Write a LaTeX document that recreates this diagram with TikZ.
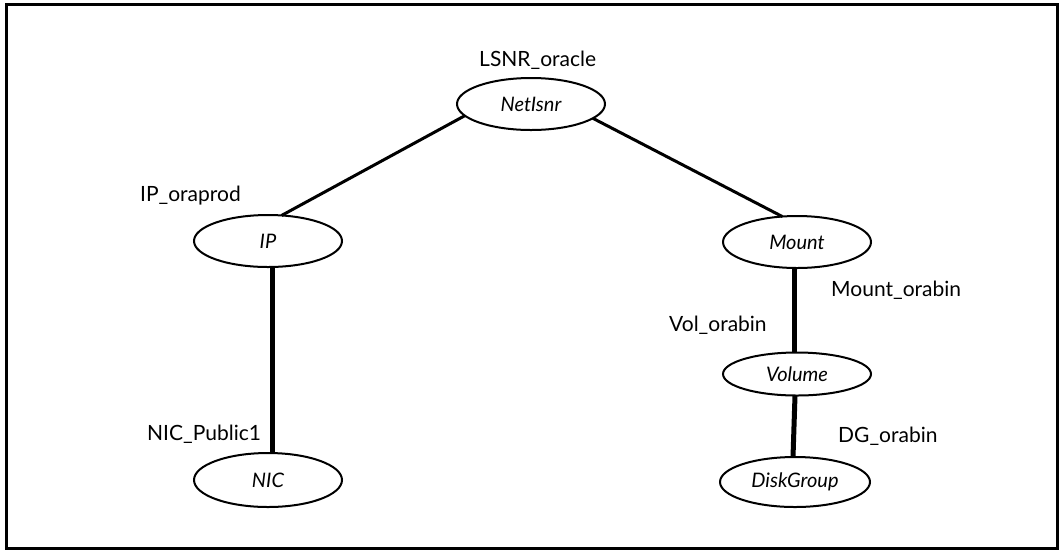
\documentclass[tikz,border=0pt]{standalone}
\usepackage{fontspec}
\setmainfont{Lato}
\usetikzlibrary{shapes.geometric}
\begin{document}
\begin{tikzpicture}[x=1pt,y=-1pt,
  res/.style={ellipse,draw,line width=2pt,minimum width=148pt,minimum height=52pt,inner sep=0pt,outer sep=0pt,font=\fontsize{20}{22}\selectfont\itshape},
  lbl/.style={anchor=base west,inner sep=0pt,font=\fontsize{21}{24}\selectfont},
  diag/.style={line width=3pt},
  vert/.style={line width=5pt}]
\useasboundingbox (0,0) rectangle (1059,550);
\draw[line width=3pt] (6.5,4.5) rectangle (1057.5,548.5);
\node[res] (net) at (531,104) {NetIsnr};
\node[res] (ip) at (268,241) {IP};
\node[res] (mount) at (797,242) {Mount};
\node[res,minimum height=43pt] (vol) at (797,374) {Volume};
\node[res,minimum height=50pt,minimum width=150pt] (dg) at (795,482) {DiskGroup};
\node[res,minimum height=54pt] (nic) at (268,480) {NIC};
\node[lbl] (l1) at (479,66) {LSNR\_oracle};
\node[lbl] (l2) at (140,201) {IP\_oraprod};
\node[lbl] (l3) at (831,296) {Mount\_orabin};
\node[lbl] (l4) at (669,331) {Vol\_orabin};
\node[lbl] (l5) at (838,442) {DG\_orabin};
\node[lbl] (l6) at (147,440) {NIC\_Public1};
\draw[diag] (net.190) -- (ip.62);
\draw[diag] (net.-13) -- (mount.120);
\draw[vert] ([xshift=4pt]ip.south) -- ([xshift=4pt]nic.north);
\draw[vert] ([xshift=-3pt]mount.south) -- ([xshift=-3pt]vol.north);
\draw[vert] ([xshift=-2pt]vol.south) -- ([xshift=-2pt]dg.north);
\end{tikzpicture}
\end{document}
